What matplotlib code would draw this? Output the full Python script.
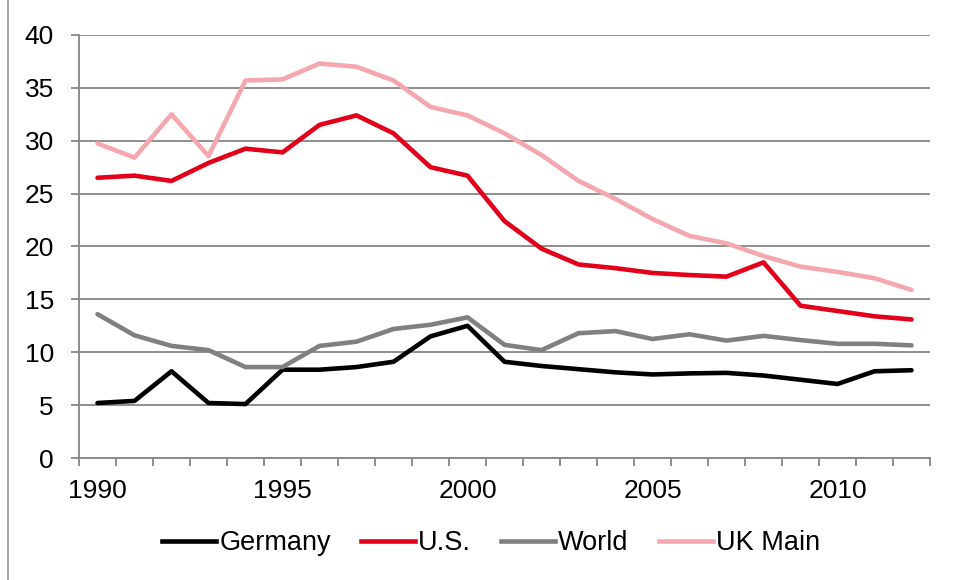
import numpy as np
import matplotlib.pyplot as plt
from matplotlib.lines import Line2D

plt.rcParams['font.family'] = ['Liberation Sans', 'DejaVu Sans']

years = list(range(1990, 2013))
germany = [5.2, 5.4, 8.2, 5.2, 5.1, 8.35, 8.35, 8.6, 9.1, 11.5, 12.5,
           9.1, 8.7, 8.4, 8.1, 7.9, 8.0, 8.05, 7.8, 7.4, 7.0, 8.2, 8.3]
us = [26.5, 26.7, 26.2, 27.9, 29.25, 28.9, 31.5, 32.4, 30.7, 27.5, 26.7,
      22.4, 19.8, 18.3, 17.95, 17.5, 17.3, 17.15, 18.5, 14.4, 13.9, 13.4, 13.1]
world = [13.6, 11.6, 10.6, 10.2, 8.6, 8.6, 10.6, 11.0, 12.2, 12.6, 13.3,
         10.7, 10.2, 11.8, 12.0, 11.25, 11.7, 11.1, 11.55, 11.15, 10.8, 10.8, 10.65]
uk_main = [29.75, 28.4, 32.5, 28.55, 35.7, 35.8, 37.3, 37.0, 35.7, 33.2, 32.4,
           30.7, 28.65, 26.2, 24.5, 22.6, 21.0, 20.3, 19.1, 18.1, 17.6, 17.0, 15.9]

series = [("Germany", germany, "#000000"),
          ("U.S.", us, "#E2001A"),
          ("World", world, "#808080"),
          ("UK Main", uk_main, "#F4A7AE")]

fig = plt.figure(figsize=(9.56, 5.8), dpi=100)
ax = fig.add_axes([79/956, 1-458/580, (930-79)/956, (458-35)/580])

grid_c = "#868686"
for name, vals, c in series:
    ax.plot(years, vals, color=c, lw=3.3, label=name, solid_capstyle="round", zorder=3)

ax.set_xlim(1989.5, 2012.5)
ax.set_ylim(0, 40)
ax.set_yticks(np.arange(0, 41, 5))
ax.yaxis.grid(True, color=grid_c, lw=1.3)
ax.set_axisbelow(True)

# category axis: tick marks between categories, labels every 5 years
ax.set_xticks(np.arange(1989.5, 2013, 1.0), minor=True)
ax.set_xticks([1990, 1995, 2000, 2005, 2010])
ax.tick_params(axis="x", which="major", length=0, pad=15, labelsize=19)
ax.tick_params(axis="x", which="minor", length=6, width=1.3, color=grid_c, direction="out")
ax.tick_params(axis="y", length=6, width=1.3, color=grid_c, labelsize=19, pad=12)

for s in ["top", "right"]:
    ax.spines[s].set_visible(False)
for s in ["left", "bottom"]:
    ax.spines[s].set_color(grid_c)
    ax.spines[s].set_linewidth(1.3)

handles = [Line2D([], [], color=c, lw=3.3) for _, _, c in series]
fig.legend(handles, [n for n, _, _ in series], loc="center",
           bbox_to_anchor=(491/956, 1-543/580), ncol=4, frameon=False,
           fontsize=19.5, handlelength=2.0, handletextpad=0.12, columnspacing=1.1)

fig.add_artist(Line2D([8/956, 8/956], [0, 1], color="#A0A0A0", lw=1.3))

fig.savefig("out.png", dpi=100)
